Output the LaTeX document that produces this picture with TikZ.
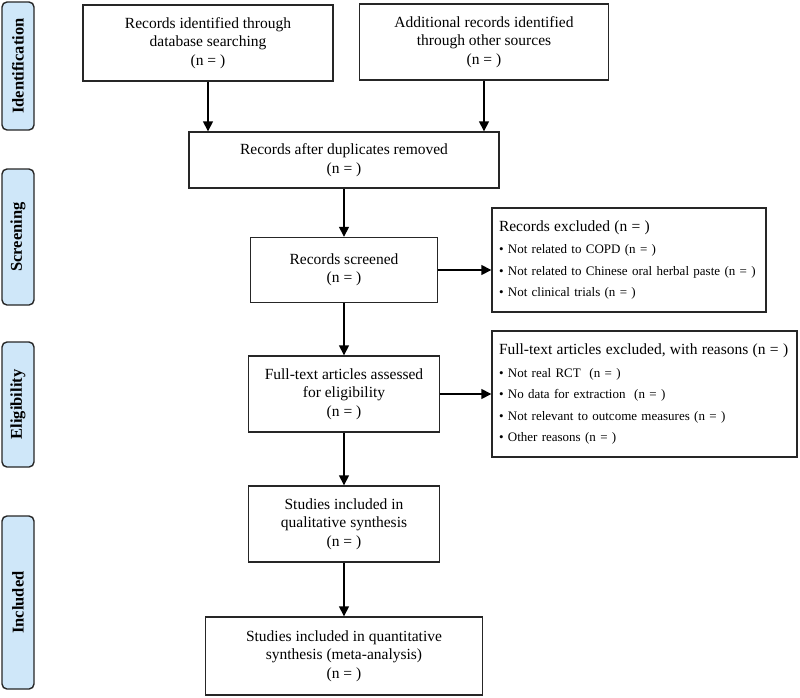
\documentclass[tikz,border=0pt]{standalone}
\usepackage{fontspec}
\setmainfont{Liberation Serif}
\usetikzlibrary{arrows.meta,positioning}

\definecolor{stagefill}{RGB}{207,231,249}

\begin{document}
\begin{tikzpicture}[
        x=1pt, y=-1pt,
        every node/.style={draw=black!85, line width=1.4pt, align=center},
        every path/.style={line width=1.5pt},
        flowbox/.style={draw, fill=white, font=\fontsize{15.5}{18.5}\selectfont},
        stage/.style={draw, rounded corners=5pt, fill=stagefill, rotate=90, minimum height=32pt, font=\bfseries\fontsize{16.5}{18}\selectfont},
        excluded/.style={draw, align=left, inner xsep=7pt, font=\fontsize{13}{21.5}\selectfont},
        arrow/.style={-{Triangle[width=10pt,length=10pt]}}
    ]

    \useasboundingbox (0,0) rectangle (800,697);

    % Stages
    \node[stage, minimum width=128pt] (ident) at (18,66) {Identification};
    \node[stage, minimum width=136pt] (screen) at (18,237) {Screening};
    \node[stage, minimum width=125pt] (elig) at (18,404.5) {Eligibility};
    \node[stage, minimum width=173pt] (incl) at (18,602.5) {Included};

    % Nodes
    \node[flowbox, minimum width=250pt, minimum height=76pt] (db) at (208,43)
        {Records identified through \\ database searching \\ (n = )};
    \node[flowbox, minimum width=249pt, minimum height=76pt] (other) at (484,42)
        {Additional records identified \\ through other sources \\ (n = )};
    \node[flowbox, minimum width=310pt, minimum height=56pt] (dup) at (344,160)
        {Records after duplicates removed \\ (n = )};
    \node[flowbox, minimum width=187pt, minimum height=65pt] (screened) at (344,270)
        {Records screened \\ (n = )};
    \node[flowbox, minimum width=191pt, minimum height=76pt] (fulltext) at (344,394)
        {Full-text articles assessed \\ for eligibility \\ (n = )};
    \node[flowbox, minimum width=191pt, minimum height=76pt] (qual) at (344,524)
        {Studies included in \\ qualitative synthesis \\ (n = )};
    \node[flowbox, minimum width=277pt, minimum height=78pt] (quant) at (344,656)
        {Studies included in quantitative \\ synthesis (meta-analysis) \\ (n = )};

    % Exclusions
    \node[excluded, text width=260pt, minimum height=104pt] (excl1) at (629,260)
        {{\fontsize{15.5}{18.5}\selectfont Records excluded (n = )}\\[1pt]
        • Not related to COPD (n = )\\
        • Not related to Chinese oral herbal paste (n = )\\
        • Not clinical trials (n = )};
    \node[excluded, text width=291pt, minimum height=126pt] (excl2) at (644.5,394)
        {{\fontsize{15.5}{18.5}\selectfont Full-text articles excluded, with reasons (n = )}\\[1pt]
        • Not real RCT~~(n = )\\
        • No data for extraction~~(n = )\\
        • Not relevant to outcome measures (n = )\\
        • Other reasons (n = )};

    % Arrows
    \draw[arrow] (db.south) -- (db.south |- dup.north);
    \draw[arrow] (other.south) -- (other.south |- dup.north);
    \draw[arrow] (dup.south) -- (screened.north);
    \draw[arrow] (screened.south) -- (fulltext.north);
    \draw[arrow] (fulltext.south) -- (qual.north);
    \draw[arrow] (qual.south) -- (quant.north);
    \draw[arrow] (screened.east) -- (screened.east -| excl1.west);
    \draw[arrow] (fulltext.east) -- (fulltext.east -| excl2.west);

\end{tikzpicture}
\end{document}
